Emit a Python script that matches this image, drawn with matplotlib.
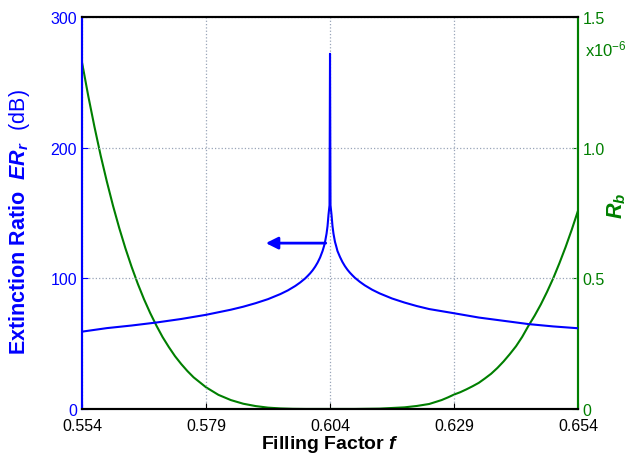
import matplotlib
matplotlib.use("Agg")
import matplotlib.pyplot as plt

plt.rcParams['font.family'] = ['Liberation Sans', 'DejaVu Sans']
plt.rcParams['mathtext.fontset'] = 'custom'
plt.rcParams['mathtext.it'] = 'Liberation Sans:style=italic:weight=bold'
plt.rcParams['mathtext.rm'] = 'Liberation Sans'
plt.rcParams['mathtext.bf'] = 'Liberation Sans:weight=bold'

# extinction ratio (dB) vs filling factor
f_er = [0.554, 0.559, 0.564, 0.569, 0.574, 0.579, 0.584, 0.5865, 0.589, 0.5915,
        0.594, 0.5955, 0.597, 0.598, 0.599, 0.5995, 0.600, 0.6005, 0.601, 0.6015,
        0.602, 0.6025, 0.6028, 0.603, 0.6033, 0.6035, 0.6037, 0.6039,
        0.604,
        0.6041, 0.6043, 0.6045, 0.6047, 0.605, 0.6052, 0.6055, 0.606, 0.6065,
        0.607, 0.6075, 0.608, 0.6085, 0.609, 0.610, 0.611, 0.6125, 0.614, 0.6165,
        0.619, 0.6215, 0.624, 0.629, 0.634, 0.639, 0.644, 0.649, 0.654]
er = [59.2, 61.9, 63.9, 66.2, 68.9, 72.1, 76.0, 78.3, 81.0, 84.1,
      88.0, 90.8, 94.2, 96.9, 100.0, 101.9, 103.9, 106.2, 108.9, 112.1,
      116.0, 121.0, 124.8, 128.0, 134.2, 140.0, 148.9, 156.0,
      272.0,
      156.0, 148.9, 140.0, 134.2, 128.0, 125.3, 121.0, 116.5, 112.6,
      109.4, 106.7, 104.4, 102.4, 100.5, 97.4, 94.7, 91.3, 88.5, 84.6,
      81.5, 78.8, 76.5, 73.3, 70.0, 67.5, 65.0, 63.2, 61.8]

# R_b (x1e-6) vs filling factor
f_rb = [0.554, 0.55525, 0.5565, 0.55775, 0.559, 0.56025, 0.5615, 0.56275,
        0.564, 0.56525, 0.5665, 0.56775, 0.569, 0.57025, 0.5715, 0.57275,
        0.574, 0.57525, 0.5765, 0.579, 0.5815, 0.584, 0.5865, 0.589, 0.5915,
        0.594, 0.5965, 0.599, 0.604, 0.609, 0.614, 0.619, 0.6215, 0.624,
        0.6265, 0.62775, 0.629, 0.63025, 0.6315, 0.63275, 0.634, 0.63525,
        0.6365, 0.63775, 0.639, 0.64025, 0.6415, 0.64275, 0.644, 0.64525,
        0.6465, 0.64775, 0.649, 0.65025, 0.6515, 0.65275, 0.654]
rb = [1.327, 1.199, 1.081, 0.971, 0.871, 0.778, 0.693, 0.615,
      0.544, 0.479, 0.420, 0.367, 0.319, 0.275, 0.237, 0.202,
      0.172, 0.145, 0.121, 0.083, 0.054, 0.034, 0.020, 0.011, 0.005,
      0.002, 0.0005, 0.0, 0.0, 0.0, 0.0012, 0.0061, 0.0114, 0.019,
      0.034, 0.044, 0.055, 0.064, 0.075, 0.087, 0.100, 0.117,
      0.135, 0.157, 0.182, 0.210, 0.240, 0.276, 0.318, 0.357,
      0.400, 0.448, 0.500, 0.558, 0.620, 0.687, 0.759]

xticks = [0.554, 0.579, 0.604, 0.629, 0.654]
blue = '#0000ff'
green = '#007f00'

fig = plt.figure(figsize=(6.31, 4.56), dpi=100)
ax = fig.add_axes([0.130, 0.101, 0.786, 0.859])
ax2 = ax.twinx()

ax.plot(f_er, er, color=blue, lw=1.5, zorder=3)
ax2.plot(f_rb, rb, color=green, lw=1.5)

ax.set_xlim(0.554, 0.654)
ax.set_ylim(0, 300)
ax2.set_ylim(0, 1.5)
ax.set_xticks(xticks)
ax.set_xticklabels(['%.3f' % t for t in xticks])
ax.set_yticks([0, 100, 200, 300])
ax2.set_yticks([0, 0.5, 1.0, 1.5])
ax2.set_yticklabels(['0', '0.5', '1.0', '1.5'])

ax.grid(True, linestyle=':', color='#98a4b8', lw=0.9)
ax.set_axisbelow(True)
ax.set_zorder(ax2.get_zorder() + 1)
ax.patch.set_visible(False)

ax.tick_params(axis='x', direction='in', labelsize=11.5, colors='black',
               length=4, pad=6.5)
ax.tick_params(axis='y', direction='in', labelsize=11.5, colors=blue, length=4)
ax2.tick_params(axis='y', direction='in', labelsize=11.5, colors=green, length=4)

for a in (ax, ax2):
    a.spines['left'].set_color(blue)
    a.spines['right'].set_color(green)
    a.spines['top'].set_color('black')
    a.spines['bottom'].set_color('black')
    for s in a.spines.values():
        s.set_linewidth(1.5)

ax.set_xlabel(r'Filling Factor $f$', fontsize=14, fontweight='bold',
              labelpad=0)
ax.set_ylabel(r'Extinction Ratio  $ER_r\ \ \mathrm{(dB)}$', fontsize=15.5,
              fontweight='bold', color=blue)
ax.yaxis.set_label_coords(-0.1, 0.48)
ax2.set_ylabel(r'$R_b$', fontsize=15.5, color=green)
ax2.yaxis.set_label_coords(1.055, 0.52)

ax2.text(1.015, 0.92, r'x10$^{-6}$', transform=ax2.transAxes,
         color=green, fontsize=12, ha='left', va='center')

ax.annotate('', xy=(0.5905, 127), xytext=(0.6037, 127),
            arrowprops=dict(arrowstyle='-|>', color=blue, lw=2,
                            mutation_scale=18))

fig.savefig('out.png', dpi=100)
